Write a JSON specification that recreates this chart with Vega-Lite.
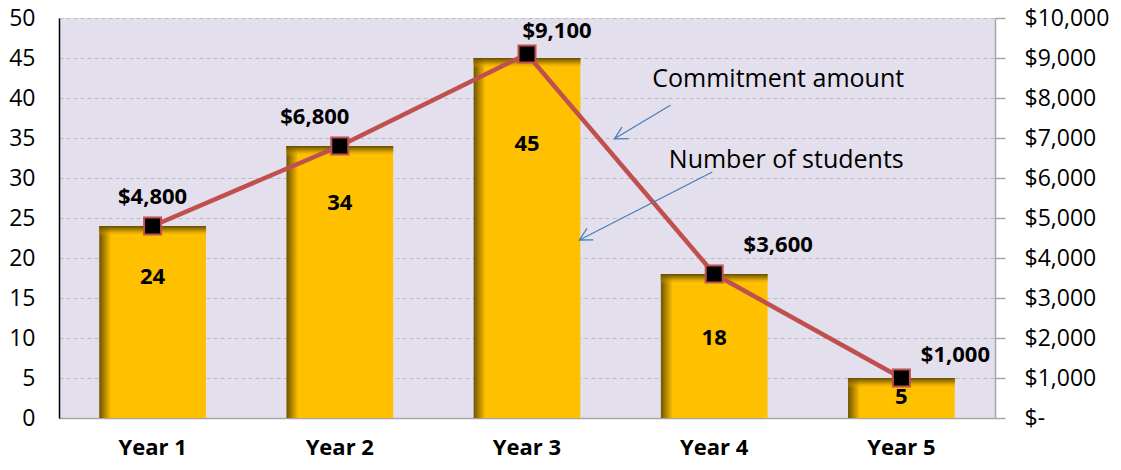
{
  "$schema": "https://vega.github.io/schema/vega-lite/v6.json",
  "width": 936,
  "height": 400,
  "autosize": {"type": "none"},
  "padding": {"left": 59, "top": 18, "right": 126, "bottom": 52},
  "background": "white",
  "config": {
    "view": {"fill": "#E4DFEC", "stroke": null},
    "font": "Open Sans",
    "axis": {"labelFont": "Open Sans", "titleFont": "Open Sans"},
    "text": {"font": "Open Sans"}
  },
  "datasets": {
    "main": [
      {"year": "Year 1", "students": 24, "amount": 4800},
      {"year": "Year 2", "students": 34, "amount": 6800},
      {"year": "Year 3", "students": 45, "amount": 9100},
      {"year": "Year 4", "students": 18, "amount": 3600},
      {"year": "Year 5", "students": 5, "amount": 1000}
    ],
    "notes": [
      {"label": "Commitment amount", "tx": 4.342, "ty": 42.4},
      {"label": "Number of students", "tx": 4.385, "ty": 32.25}
    ],
    "arrows": [
      {"x1": 3.766, "y1": 39.1, "x2": 3.467, "y2": 34.9},
      {"x1": 3.99, "y1": 30.75, "x2": 3.28, "y2": 22.25}
    ]
  },
  "layer": [
    {
      "data": {"name": "main"},
      "encoding": {
        "x": {
          "field": "year", "type": "nominal", "sort": null,
          "scale": {"paddingInner": 0.43, "paddingOuter": 0.215},
          "axis": {"title": null, "labelAngle": 0, "labelFontSize": 22, "labelFontWeight": "bold", "labelColor": "#000000", "labelPadding": 19, "ticks": false, "domainColor": "#A6A6A6", "domainWidth": 1.5}
        },
        "y": {
          "field": "students", "type": "quantitative",
          "scale": {"domain": [0, 50], "nice": false},
          "axis": {"title": null, "orient": "left", "values": [0, 5, 10, 15, 20, 25, 30, 35, 40, 45, 50], "labelFontSize": 23, "labelColor": "#000000", "labelPadding": 24, "ticks": false, "domainColor": "#000000", "domainWidth": 1.5, "grid": true, "gridColor": "#BDBDBD", "gridDash": [4, 3], "gridWidth": 1}
        }
      },
      "layer": [
        {
          "mark": {"type": "bar", "fill": {"gradient": "linear", "x1": 0, "y1": 0, "x2": 1, "y2": 0, "stops": [{"offset": 0, "color": "#6E5300"}, {"offset": 0.11, "color": "#FFC000"}, {"offset": 1, "color": "#FFC000"}]}}
        },
        {
          "mark": {"type": "tick", "thickness": 10, "size": 107, "yOffset": 5, "opacity": 1, "fill": {"gradient": "linear", "x1": 0, "y1": 0, "x2": 0, "y2": 1, "stops": [{"offset": 0, "color": "rgba(100,75,0,1)"}, {"offset": 0.45, "color": "rgba(150,113,0,0.65)"}, {"offset": 1, "color": "rgba(255,192,0,0)"}]}}
        },
        {"transform": [{"filter": "datum.year == 'Year 1'"}], "mark": {"type": "text", "fontSize": 22, "fontWeight": "bold", "color": "#000000", "dy": 51}, "encoding": {"text": {"field": "students"}}},
        {"transform": [{"filter": "datum.year == 'Year 2'"}], "mark": {"type": "text", "fontSize": 22, "fontWeight": "bold", "color": "#000000", "dy": 57}, "encoding": {"text": {"field": "students"}}},
        {"transform": [{"filter": "datum.year == 'Year 3'"}], "mark": {"type": "text", "fontSize": 22, "fontWeight": "bold", "color": "#000000", "dy": 86}, "encoding": {"text": {"field": "students"}}},
        {"transform": [{"filter": "datum.year == 'Year 4'"}], "mark": {"type": "text", "fontSize": 22, "fontWeight": "bold", "color": "#000000", "dy": 64}, "encoding": {"text": {"field": "students"}}},
        {"transform": [{"filter": "datum.year == 'Year 5'"}], "mark": {"type": "text", "fontSize": 22, "fontWeight": "bold", "color": "#000000", "dy": 19}, "encoding": {"text": {"field": "students"}}}
      ]
    },
    {
      "data": {"name": "main"},
      "encoding": {
        "x": {"field": "year", "type": "nominal", "sort": null, "scale": {"paddingInner": 0.43, "paddingOuter": 0.215}, "axis": null},
        "y": {
          "field": "amount", "type": "quantitative",
          "scale": {"domain": [0, 10000], "nice": false},
          "axis": {"title": null, "orient": "right", "values": [0, 1000, 2000, 3000, 4000, 5000, 6000, 7000, 8000, 9000, 10000], "labelExpr": "datum.value == 0 ? '$-' : '$' + format(datum.value, ',')", "labelFontSize": 23, "labelColor": "#000000", "labelAlign": "left", "labelPadding": 19, "ticks": true, "tickSize": 10, "tickColor": "#A6A6A6", "tickWidth": 1.5, "domainColor": "#A6A6A6", "domainWidth": 1.5, "grid": false}
        }
      },
      "layer": [
        {"mark": {"type": "line", "color": "#C0504D", "strokeWidth": 4.5}},
        {"mark": {"type": "point", "shape": "square", "filled": true, "fill": "#000000", "stroke": "#C0504D", "strokeWidth": 2, "size": 289, "opacity": 1}},
        {"transform": [{"filter": "datum.year == 'Year 1'"}], "mark": {"type": "text", "fontSize": 22, "fontWeight": "bold", "color": "#000000", "dx": 0, "dy": -29}, "encoding": {"text": {"field": "amount", "format": "$,"}}},
        {"transform": [{"filter": "datum.year == 'Year 2'"}], "mark": {"type": "text", "fontSize": 22, "fontWeight": "bold", "color": "#000000", "dx": -25, "dy": -29}, "encoding": {"text": {"field": "amount", "format": "$,"}}},
        {"transform": [{"filter": "datum.year == 'Year 3'"}], "mark": {"type": "text", "fontSize": 22, "fontWeight": "bold", "color": "#000000", "dx": 30, "dy": -23}, "encoding": {"text": {"field": "amount", "format": "$,"}}},
        {"transform": [{"filter": "datum.year == 'Year 4'"}], "mark": {"type": "text", "fontSize": 22, "fontWeight": "bold", "color": "#000000", "dx": 64, "dy": -29}, "encoding": {"text": {"field": "amount", "format": "$,"}}},
        {"transform": [{"filter": "datum.year == 'Year 5'"}], "mark": {"type": "text", "fontSize": 22, "fontWeight": "bold", "color": "#000000", "dx": 54, "dy": -23}, "encoding": {"text": {"field": "amount", "format": "$,"}}}
      ]
    },
    {
      "layer": [
        {
          "data": {"name": "arrows"},
          "mark": {"type": "rule", "color": "#4A7EBB", "strokeWidth": 1.3},
          "encoding": {
            "x": {"field": "x1", "type": "quantitative", "scale": {"domain": [0.5, 5.5], "nice": false, "zero": false}, "axis": null},
            "x2": {"field": "x2"},
            "y": {"field": "y1", "type": "quantitative", "scale": {"domain": [0, 50], "nice": false}, "axis": null},
            "y2": {"field": "y2"}
          }
        },
        {
          "data": {"name": "arrows"},
          "mark": {"type": "point", "shape": "M -0.94 1.76 L 0 0 L 0.94 1.76", "filled": false, "fill": null, "stroke": "#4A7EBB", "strokeWidth": 1.3, "size": 196, "angle": 241, "opacity": 1},
          "encoding": {
            "x": {"field": "x2", "type": "quantitative", "scale": {"domain": [0.5, 5.5], "nice": false, "zero": false}, "axis": null},
            "y": {"field": "y2", "type": "quantitative", "scale": {"domain": [0, 50], "nice": false}, "axis": null}
          }
        },
        {
          "data": {"name": "notes"},
          "mark": {"type": "text", "fontSize": 25, "color": "#000000"},
          "encoding": {
            "x": {"field": "tx", "type": "quantitative", "scale": {"domain": [0.5, 5.5], "nice": false, "zero": false}, "axis": null},
            "y": {"field": "ty", "type": "quantitative", "scale": {"domain": [0, 50], "nice": false}, "axis": null},
            "text": {"field": "label"}
          }
        }
      ]
    }
  ],
  "resolve": {"scale": {"x": "independent", "y": "independent"}, "axis": {"x": "independent", "y": "independent"}}
}
